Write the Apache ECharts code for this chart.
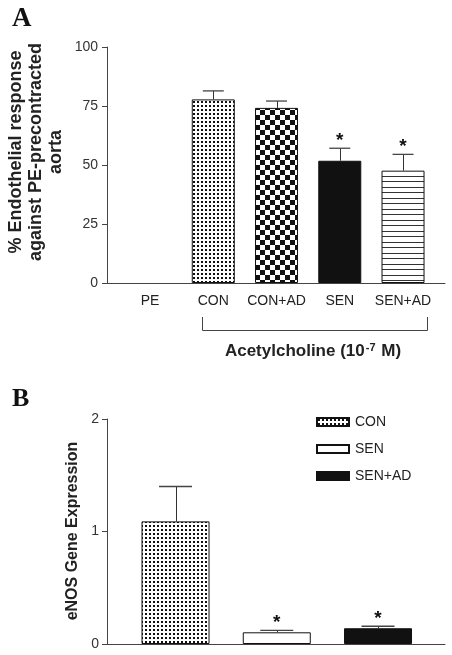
<!DOCTYPE html>
<html><head><meta charset="utf-8">
<script src="https://cdn.jsdelivr.net/npm/echarts@6/dist/echarts.min.js"></script>
<style>html,body{margin:0;padding:0;background:#fff}#c{width:452px;height:655px}</style>
</head><body><div id="c"></div>
<script>
// ---- Panel A data ----
const catsA = ['PE', 'CON', 'CON+AD', 'SEN', 'SEN+AD'];
const meanA = [0, 77.8, 74.2, 51.8, 47.6];
const semA  = [0, 3.6, 2.9, 5.3, 6.9];
const sigA  = [false, false, false, true, true];
const ticksA = [0, 25, 50, 75, 100];

// ---- Panel B data ----
const catsB = ['CON', 'SEN', 'SEN+AD'];
const meanB = [1.09, 0.104, 0.14];
const semB  = [0.31, 0.018, 0.018];
const sigB  = [false, true, true];
const ticksB = [0, 1, 2];

// ---- styles ----
const FONT = '"Liberation Sans", Arial, sans-serif';
const patA = ['solid', 'dots', 'checker', 'solid', 'hstripe'];
const patB = ['dots', 'white', 'solid'];

function pattern(kind) {
  const c = document.createElement('canvas');
  const x = c.getContext('2d');
  if (kind === 'dots') {
    c.width = 4; c.height = 4;
    x.fillStyle = '#fff'; x.fillRect(0, 0, 4, 4);
    x.fillStyle = '#111'; x.fillRect(1, 1, 2, 2);
  } else if (kind === 'checker') {
    c.width = 10; c.height = 10;
    x.fillStyle = '#fff'; x.fillRect(0, 0, 10, 10);
    x.fillStyle = '#111'; x.fillRect(0, 0, 5, 5); x.fillRect(5, 5, 5, 5);
  } else if (kind === 'hstripe') {
    c.width = 4; c.height = 11;
    x.fillStyle = '#fff'; x.fillRect(0, 0, 4, 11);
    x.fillStyle = '#333'; x.fillRect(0, 0, 4, 1); x.fillRect(0, 5, 4, 1);
  } else if (kind === 'white') {
    return '#ffffff';
  } else {
    return '#111111';
  }
  return { image: c, repeat: 'repeat' };
}

function errRender(capHalf, fontSize) {
  return function (params, api) {
    const i = api.value(0), m = api.value(1), s = api.value(2), sig = api.value(3);
    const children = [];
    if (s > 0) {
      const p0 = api.coord([i, m]);
      const p1 = api.coord([i, m + s]);
      children.push({ type: 'line', shape: { x1: Math.round(p0[0]) + 0.5, y1: p0[1], x2: Math.round(p1[0]) + 0.5, y2: p1[1] }, style: { stroke: '#333', lineWidth: 1 } });
      children.push({ type: 'line', shape: { x1: p1[0] - capHalf, y1: p1[1], x2: p1[0] + capHalf, y2: p1[1] }, style: { stroke: '#444', lineWidth: 1.3 } });
    }
    if (sig) {
      const t = api.coord([i, m + s]);
      children.push({ type: 'text', x: t[0], y: t[1] + 2, style: { text: '*', font: 'bold ' + fontSize + 'px ' + FONT, align: 'center', verticalAlign: 'bottom', fill: '#111' } });
    }
    return { type: 'group', children };
  };
}

const axisCommon = {
  axisLine: { show: true, lineStyle: { color: '#444', width: 1 } },
  splitLine: { show: false }
};

const chart = echarts.init(document.getElementById('c'), null, { renderer: 'canvas' });

const seriesB = catsB.map((name, i) => ({
  name: name,
  type: 'bar',
  xAxisIndex: 2, yAxisIndex: 2,
  barWidth: 68,
  barGap: '-100%',
  data: catsB.map((c, j) => (j === i ? meanB[i] : '-')),
  itemStyle: { color: pattern(patB[i]), borderColor: '#111', borderWidth: 1 },
  silent: true
}));

chart.setOption({
  animation: false,
  backgroundColor: '#fff',
  textStyle: { fontFamily: FONT },
  grid: [
    { left: 118.4, top: 47, width: 316.25, height: 236 },
    { left: 107, top: 47, width: 338, height: 236 },
    { left: 124.9, top: 419, width: 303.75, height: 225 },
    { left: 107, top: 419, width: 338, height: 225 }
  ],
  xAxis: [
    { type: 'category', gridIndex: 0, data: catsA, axisLine: { show: false }, axisTick: { show: false },
      axisLabel: { interval: 0, fontSize: 14, color: '#222', margin: 11, fontFamily: FONT } },
    { type: 'value', gridIndex: 1, min: 0, max: 1, ...axisCommon, axisTick: { show: false }, axisLabel: { show: false } },
    { type: 'category', gridIndex: 2, data: catsB, show: false },
    { type: 'value', gridIndex: 3, min: 0, max: 1, ...axisCommon, axisTick: { show: false }, axisLabel: { show: false } }
  ],
  yAxis: [
    { type: 'value', gridIndex: 0, min: ticksA[0], max: ticksA[ticksA.length - 1], show: false },
    { type: 'value', gridIndex: 1, min: ticksA[0], max: ticksA[ticksA.length - 1], interval: ticksA[1] - ticksA[0], ...axisCommon,
      axisTick: { show: true, length: 5, lineStyle: { color: '#444' } },
      axisLabel: { fontSize: 14, color: '#333', margin: 9, fontFamily: FONT } },
    { type: 'value', gridIndex: 2, min: ticksB[0], max: ticksB[ticksB.length - 1], show: false },
    { type: 'value', gridIndex: 3, min: ticksB[0], max: ticksB[ticksB.length - 1], interval: ticksB[1] - ticksB[0], ...axisCommon,
      axisTick: { show: true, length: 5, lineStyle: { color: '#444' } },
      axisLabel: { fontSize: 14, color: '#333', margin: 8, fontFamily: FONT } }
  ],
  legend: {
    data: catsB,
    orient: 'vertical',
    left: 311, top: 410,
    itemWidth: 32, itemHeight: 8, itemGap: 13,
    icon: 'rect',
    textStyle: { fontSize: 14, color: '#222', fontFamily: FONT, padding: [0, 0, 0, 1] },
    selectedMode: false
  },
  series: [
    {
      type: 'bar', xAxisIndex: 0, yAxisIndex: 0, barWidth: 43, silent: true,
      data: meanA.map((v, i) => ({ value: v, itemStyle: { color: pattern(patA[i]), borderColor: '#111', borderWidth: v > 0 ? 1 : 0 } }))
    },
    {
      type: 'custom', xAxisIndex: 0, yAxisIndex: 0, silent: true,
      renderItem: errRender(10.5, 19),
      data: catsA.map((c, i) => [i, meanA[i], semA[i], sigA[i] ? 1 : 0]),
      z: 5
    },
    ...seriesB,
    {
      type: 'custom', xAxisIndex: 2, yAxisIndex: 2, silent: true,
      renderItem: errRender(16.5, 19),
      data: catsB.map((c, i) => [i, meanB[i], semB[i], sigB[i] ? 1 : 0]),
      z: 5
    }
  ],
  graphic: [
    { type: 'text', x: 12, y: 6, style: { text: 'A', font: 'bold 27px "Liberation Serif", serif', fill: '#111' } },
    { type: 'text', x: 12, y: 386, style: { text: 'B', font: 'bold 26px "Liberation Serif", serif', fill: '#111' } },
    { type: 'text', x: 36, y: 152, rotation: Math.PI / 2,
      style: { text: '% Endothelial response\nagainst PE-precontracted\naorta', font: 'bold 18px ' + FONT, lineHeight: 20, align: 'center', verticalAlign: 'middle', fill: '#222' } },
    { type: 'text', x: 73, y: 531, rotation: Math.PI / 2,
      style: { text: 'eNOS Gene Expression', font: 'bold 16px ' + FONT, align: 'center', verticalAlign: 'middle', fill: '#222' } },
    { type: 'polyline', shape: { points: [[202.5, 317], [202.5, 330.5], [427.5, 330.5], [427.5, 317]] }, style: { stroke: '#444', lineWidth: 1, fill: null } },
    { type: 'text', x: 313, y: 351,
      style: { text: '{a|Acetylcholine (10}{s|-7}{a| M)}', align: 'center', verticalAlign: 'middle', fill: '#222',
        rich: { a: { font: 'bold 17px ' + FONT, fill: '#222' }, s: { font: 'bold 11px ' + FONT, fill: '#222', verticalAlign: 'top', padding: [0, 1, 6, 1] } } } }
  ]
});
</script>
</body></html>
